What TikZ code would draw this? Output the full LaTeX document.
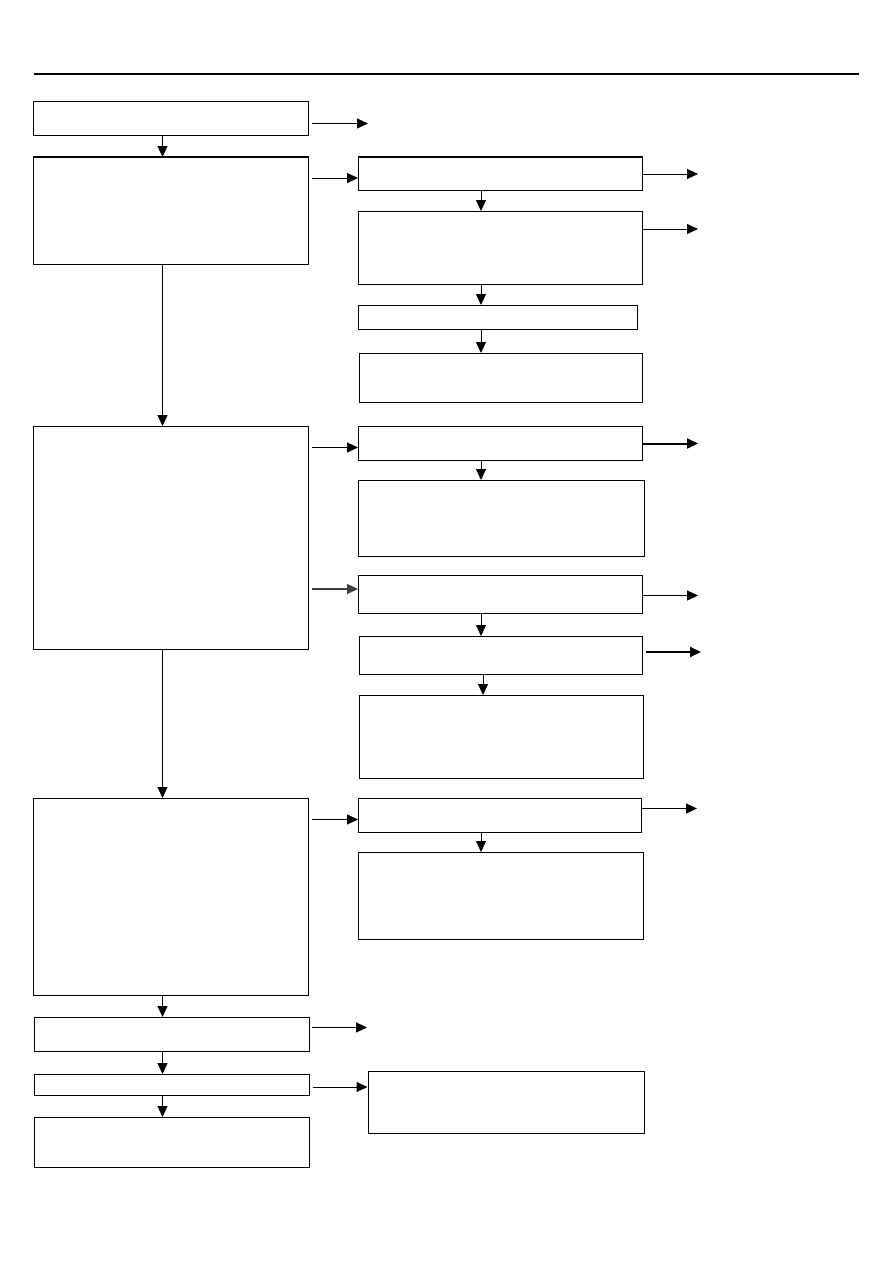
\documentclass[tikz,border=0pt]{standalone}
\usepackage{amsmath}
\usepackage{tikz}
\usetikzlibrary{arrows.meta,calc}

\tikzset{
  box/.style={draw, line width=1pt, anchor=north west, inner sep=0pt, minimum width=#1},
  arr/.style={draw, line width=1pt, -{Triangle[length=11pt,width=10pt]}},
  thickarr/.style={arr, line width=2pt}
}

\begin{document}
\begin{tikzpicture}[x=1pt,y=-1pt]
    \useasboundingbox (0,0) rectangle (893,1263);
    \draw[line width=2pt] (34,74) -- (859,74);
    \coordinate (lc) at (162.5,0);
    \coordinate (rc) at (481,0);
    \coordinate (rd) at (483,0);
    \node[box=275pt, minimum height=34pt] (l1) at (33,101) {};
    \node[box=275pt, minimum height=107pt] (l2) at (33,157) {};
    \node[box=275pt, minimum height=223pt] (l3) at (33,426) {};
    \node[box=275pt, minimum height=197pt] (l4) at (33,798) {};
    \node[box=275pt, minimum height=34pt] (l5) at (34,1017) {};
    \node[box=275pt, minimum height=21pt] (l6) at (33.5,1074) {};
    \node[box=275pt, minimum height=50pt] (l7) at (33.5,1117) {};
    \node[box=284pt, minimum height=33pt] (r1) at (358,157) {};
    \node[box=284pt, minimum height=73pt] (r2) at (358,211) {};
    \node[box=279pt, minimum height=24pt] (r3) at (358,305) {};
    \node[box=283pt, minimum height=49pt] (r4) at (359,353) {};
    \node[box=284pt, minimum height=34pt] (r5) at (358,426) {};
    \node[box=286pt, minimum height=76pt] (r6) at (358,480) {};
    \node[box=284pt, minimum height=38pt] (r7) at (358,575) {};
    \node[box=283pt, minimum height=38pt] (r8) at (359,636) {};
    \node[box=284pt, minimum height=83pt] (r9) at (359,695) {};
    \node[box=283pt, minimum height=34pt] (r10) at (358,798) {};
    \node[box=285pt, minimum height=87pt] (r11) at (358,852) {};
    \node[box=276pt, minimum height=62pt, line width=1.3pt] (r12) at (367.5,1071) {};
    \draw[line width=2pt] (l2.north west) -- (l2.north east);
    \draw[line width=2pt] (r1.north west) -- (r1.north east);
    \draw[arr] (lc |- l1.south) -- (lc |- l2.north);
    \draw[arr] (lc |- l2.south) -- (lc |- l3.north);
    \draw[arr] (lc |- l3.south) -- (lc |- l4.north);
    \draw[arr] (lc |- l4.south) -- (lc |- l5.north);
    \draw[arr] (lc |- l5.south) -- (lc |- l6.north);
    \draw[arr] (lc |- l6.south) -- (lc |- l7.north);
    \draw[arr] (rc |- r1.south) -- (rc |- r2.north);
    \draw[arr] (rc |- r2.south) -- (rc |- r3.north);
    \draw[arr] (rc |- r3.south) -- (rc |- r4.north);
    \draw[arr] (rc |- r5.south) -- (rc |- r6.north);
    \draw[arr] (rc |- r7.south) -- (rc |- r8.north);
    \draw[arr] (rd |- r8.south) -- (rd |- r9.north);
    \draw[arr] (rc |- r10.south) -- (rc |- r11.north);
    \draw[arr] ($(l1.east)+(3,5)$) -- ++(56,0);
    \draw[arr] ($(l2.east |- r1.west)+(3,4)$) -- ($(r1.west)+(0,4)$);
    \draw[arr] (r1.east) -- ++(55,0);
    \draw[arr] ($(r2.east)+(0,-19)$) -- ++(55,0);
    \draw[arr] ($(l3.east |- r5.west)+(3,4)$) -- ($(r5.west)+(0,4)$);
    \draw[thickarr] (r5.east) -- ++(55,0);
    \draw[arr, line width=1.3pt, black!75] ($(l3.east |- r7.west)+(3,-5.5)$) -- ($(r7.west)+(0,-5.5)$);
    \draw[arr] ($(r7.east)+(0,1)$) -- ++(55,0);
    \draw[thickarr] ($(r8.east)+(3,-3.5)$) -- ++(55,0);
    \draw[arr] ($(l4.east |- r10.west)+(3,4)$) -- ($(r10.west)+(0,4)$);
    \draw[arr] ($(r10.east)+(0,-7)$) -- ++(55,0);
    \draw[arr] ($(l5.east)+(2,-7)$) -- ++(55,0);
    \draw[arr] ($(l6.east)+(3,2)$) -- ($(r12.west |- l6.east)+(0,2)$);
\end{tikzpicture}
\end{document}
